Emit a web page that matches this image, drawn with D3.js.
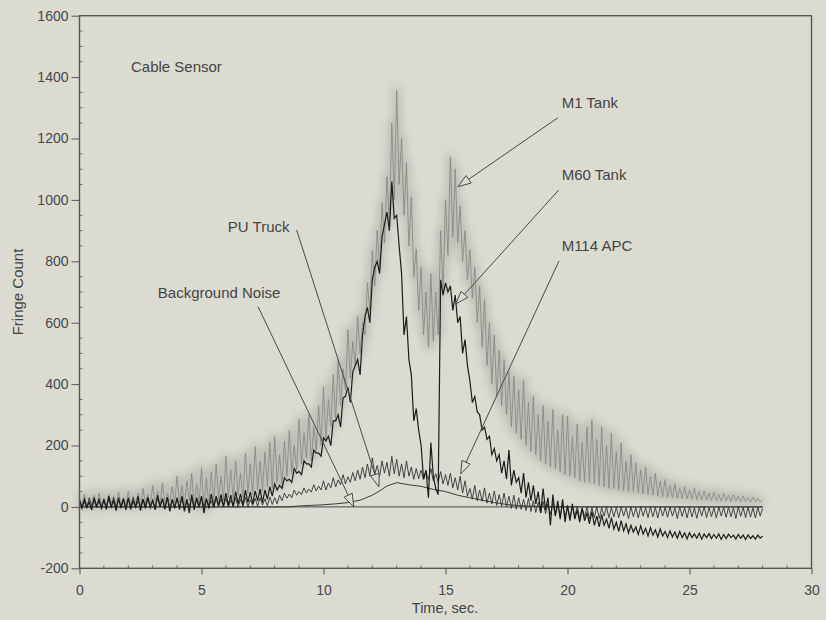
<!DOCTYPE html>
<html lang="en">
<head>
<meta charset="utf-8">
<title>Cable Sensor - Fringe Count</title>
<script src="https://cdn.jsdelivr.net/npm/d3@7"></script>
<style>
  body { margin: 0; background: #dcdbd2; }
  svg { display: block; font-family: "Liberation Sans", Arial, sans-serif; }
  .tick text { fill: #474747; font-size: 14px; }
  .tick line { stroke: #555; }
  .lbl { fill: #444; font-size: 15px; }
</style>
</head>
<body>
<div id="chart"></div>
<script>
// x ticks / y ticks
var xTicks = [0, 5, 10, 15, 20, 25, 30];
var yTicks = [-200, 0, 200, 400, 600, 800, 1000, 1200, 1400, 1600];

// every trace below: peak read every 0.2 s (t = 0 ... 28), trough half way between
var m1Peaks = [30, 42, 25, 38, 45, 28, 40, 35, 48, 30,
  50, 35, 45, 60, 40, 70, 52, 78, 45, 65,
  100, 70, 85, 110, 75, 128, 95, 115, 140, 100,
  165, 120, 150, 110, 175, 140, 197, 150, 180, 210,
  230, 170, 215, 250, 200, 285, 240, 300, 260, 330,
  390, 350, 430, 480, 450, 577, 540, 620, 600, 730,
  835, 900, 990, 1076, 1250, 1357, 1200, 1120, 1010, 840,
  780, 700, 760, 700, 900, 1000, 1140, 1100, 980, 900,
  837, 780, 720, 675, 600, 560, 510, 480, 440, 425,
  380, 414, 340, 360, 300, 330, 280, 317, 250, 300,
  295, 230, 270, 210, 260, 284, 220, 262, 200, 240,
  180, 208, 150, 170, 144, 120, 130, 99, 110, 85,
  89, 70, 75, 60, 65, 55, 60, 50, 52, 45,
  48, 40, 44, 38, 40, 35, 36, 30, 32, 28,
  25];
var m1Troughs = [5, 0, 8, -3, 6, 2, 10, 0, 5, 8,
  3, 10, 0, 12, 5, 15, 8, 10, 18, 12,
  15, 5, 20, 0, 10, -10, 5, 15, 25, 20,
  30, 25, 40, 30, 45, 40, 55, 50, 65, 60,
  80, 70, 100, 110, 120, 140, 160, 150, 180, 200,
  220, 260, 280, 330, 380, 420, 460, 500, 560, 640,
  720, 780, 860, 920, 1000, 1050, 950, 850, 750, 640,
  560, 520, 540, 560, 700, 820, 880, 860, 800, 740,
  680, 600, 520, 460, 400, 360, 330, 300, 260, 240,
  220, 200, 180, 170, 150, 140, 130, 125, 115, 105,
  100, 95, 85, 80, 80, 75, 70, 65, 60, 60,
  55, 52, 50, 48, 45, 42, 40, 38, 35, 33,
  32, 30, 28, 28, 26, 25, 24, 22, 22, 20,
  20, 18, 20, 17, 18, 16, 17, 15, 16, 15];

var m60Peaks = [20, 25, 15, 30, 20, 25, 35, 20, 30, 25,
  30, 20, 35, 25, 30, 22, 38, 28, 32, 25,
  30, 35, 25, 40, 30, 35, 28, 42, 35, 40,
  45, 38, 50, 42, 55, 48, 52, 58, 55, 65,
  75, 70, 95, 90, 125, 115, 150, 140, 185, 175,
  225, 230, 280, 300, 355, 390, 440, 480, 560, 650,
  740, 800, 880, 960, 1060, 950, 760, 620, 430, 320,
  200, 120, 210, 60, 740, 730, 720, 690, 620, 545,
  410, 360, 300, 260, 230, 190, 170, 150, 185, 120,
  95, 110, 80, 70, 50, 60, 30, 40, 20, 25,
  5, 10, -10, -5, -20, -15, -30, -25, -40, -35,
  -50, -45, -55, -60, -65, -62, -70, -68, -75, -72,
  -80, -78, -82, -80, -85, -84, -88, -86, -88, -87,
  -90, -88, -90, -89, -92, -90, -92, -91, -94, -92,
  -95];
var m60Troughs = [-5, 0, -10, 2, -5, -8, 0, -12, -5, -10,
  -8, 0, -12, -5, -2, -10, 0, -8, -15, -5,
  -8, -15, -20, -10, 0, -20, -5, 0, 5, 0,
  5, 0, 10, 5, 15, 10, 20, 15, 25, 35,
  55, 60, 85, 80, 110, 105, 140, 130, 175, 165,
  215, 200, 280, 260, 360, 340, 460, 430, 620, 600,
  780, 760, 920, 900, 940, 850, 560, 480, 280, 250,
  90, 30, 100, 40, 690, 700, 640, 600, 500, 460,
  340, 310, 250, 220, 170, 150, 110, 90, 70, 80,
  45, 30, 20, 10, -20, -10, -60, -30, -40, -50,
  -45, -40, -50, -45, -55, -60, -65, -60, -70, -72,
  -80, -78, -85, -82, -90, -88, -95, -92, -98, -95,
  -100, -98, -102, -100, -104, -100, -102, -105, -100, -103,
  -102, -106, -103, -100, -105, -102, -106, -103, -105, -102];

var m114Peaks = [25, 15, 30, 20, 28, 18, 25, 30, 20, 28,
  22, 30, 18, 26, 32, 20, 28, 24, 30, 22,
  25, 30, 20, 28, 22, 30, 25, 20, 28, 25,
  28, 22, 30, 25, 32, 24, 28, 30, 26, 32,
  30, 38, 45, 42, 55, 50, 62, 58, 72, 68,
  85, 78, 95, 88, 105, 98, 112, 120, 130, 140,
  160, 135, 150, 145, 165, 155, 140, 150, 130, 125,
  120, 115, 125, 108, 115, 105, 110, 95, 100, 85,
  60, 70, 55, 62, 45, 52, 40, 45, 35, 38,
  30, 25, 28, 20, 15, 18, 10, 12, 5, 8,
  0, -2, 2, -3, 0, -2, 1, -3, 0, -2,
  -1, 0, -3, 0, -2, 1, -3, 0, -2, 0,
  -2, 0, -3, 0, -2, 0, -3, -1, 0, -2,
  -3, 0, -2, -1, -3, 0, -2, 0, -3, -1,
  -5];
var m114Troughs = [0, -5, 2, -3, 0, 5, -2, 0, 3, -4,
  2, -3, 0, 4, -2, 0, 3, -4, 0, 2,
  0, -5, 2, 0, -3, 0, 2, -2, 0, 3,
  0, 4, -2, 2, 0, 5, 2, 6, 4, 8,
  10, 20, 28, 30, 38, 40, 45, 48, 52, 55,
  55, 62, 65, 72, 75, 80, 85, 90, 95, 100,
  105, 100, 110, 100, 108, 100, 95, 100, 90, 92,
  90, 88, 85, 80, 75, 70, 62, 55, 45, 35,
  25, 20, 18, 12, 10, 5, 2, 0, -5, -8,
  -8, -12, -15, -18, -20, -22, -25, -28, -30, -32,
  -35, -30, -38, -32, -40, -35, -38, -30, -36, -33,
  -35, -30, -38, -32, -36, -30, -35, -32, -36, -30,
  -34, -30, -38, -31, -36, -33, -37, -30, -35, -32,
  -36, -30, -34, -32, -38, -31, -35, -33, -36, -30];

// smooth traces
var puTimes = [0, 8.5, 9, 9.5, 10, 10.5, 11, 11.5, 12, 12.3, 12.6, 13, 13.5, 14, 14.5, 15, 15.5, 16, 16.5, 17, 17.5, 18, 19, 20, 28];
var puValues = [0, 0, 3, 5, 7, 10, 14, 22, 38, 52, 68, 79, 72, 67, 57, 50, 38, 30, 22, 14, 8, 4, 1, 0, 0];
var noiseTimes = [0, 28];
var noiseValues = [0, 0];

// annotations (data coordinates)
var annoText = ["Cable Sensor", "M1 Tank", "M60 Tank", "M114 APC", "PU Truck", "Background Noise"];
var annoAt = [[2.11, 1418], [19.76, 1299], [19.76, 1065], [19.76, 832], [6.08, 897], [3.21, 680]];
var arrowFrom = [null, [19.61, 1268], [19.64, 1032], [19.65, 801], [8.9, 902], [7.32, 652]];
var arrowTo = [null, [15.51, 1043], [15.42, 661], [15.62, 107], [12.27, 65], [11.24, 0]];

(function() {
  var width = 826, height = 620;
  var mLeft = 79.5, mRight = 811.5, mTop = 15.7, mBottom = 568.3;
  var bg = '#dcdbd2';
  var step = 0.2;

  var svg = d3.select('#chart').append('svg')
    .attr('width', width)
    .attr('height', height);

  var defs = svg.append('defs');
  defs.append('filter').attr('id', 'fuzz')
    .attr('x', '-10%').attr('y', '-10%').attr('width', '120%').attr('height', '120%')
    .append('feGaussianBlur').attr('stdDeviation', 4);

  var x = d3.scaleLinear().domain([0, 30]).range([mLeft, mRight]);
  var y = d3.scaleLinear().domain([-200, 1600]).range([mBottom, mTop]);

  // zig-zag a peak list and a trough list into one trace
  function zigzag(peaks, troughs) {
    var pts = [];
    peaks.forEach(function(p, k) {
      pts.push([k * step, p]);
      if (k < troughs.length) pts.push([k * step + step / 2, troughs[k]]);
    });
    return pts;
  }

  var line = d3.line()
    .x(function(d) { return x(d[0]); })
    .y(function(d) { return y(d[1]); });

  var m1 = zigzag(m1Peaks, m1Troughs);
  var m60 = zigzag(m60Peaks, m60Troughs);
  var m114 = zigzag(m114Peaks, m114Troughs);
  var pu = puTimes.map(function(t, i) { return [t, puValues[i]]; });
  var noise = noiseTimes.map(function(t, i) { return [t, noiseValues[i]]; });

  var plot = svg.append('g');

  // M1 tank: grey with a fuzzy halo like the scan
  plot.append('path').datum(m1)
    .attr('d', line)
    .attr('fill', 'none')
    .attr('stroke', '#8a8a84')
    .attr('stroke-width', 8)
    .attr('stroke-linejoin', 'round')
    .attr('opacity', 0.35)
    .attr('filter', 'url(#fuzz)');
  plot.append('path').datum(m1)
    .attr('d', line)
    .attr('fill', 'none')
    .attr('stroke', '#858582')
    .attr('stroke-width', 0.8);

  plot.append('path').datum(noise)
    .attr('d', line).attr('fill', 'none')
    .attr('stroke', '#444').attr('stroke-width', 1);
  plot.append('path').datum(pu)
    .attr('d', line).attr('fill', 'none')
    .attr('stroke', '#3a3a3a').attr('stroke-width', 1);
  plot.append('path').datum(m114)
    .attr('d', line).attr('fill', 'none')
    .attr('stroke', '#333').attr('stroke-width', 0.9);
  plot.append('path').datum(m60)
    .attr('d', line).attr('fill', 'none')
    .attr('stroke', '#1c1c1c').attr('stroke-width', 1.2);

  // frame
  svg.append('rect')
    .attr('x', mLeft).attr('y', mTop)
    .attr('width', mRight - mLeft).attr('height', mBottom - mTop)
    .attr('fill', 'none').attr('stroke', '#555').attr('stroke-width', 1.4);

  // axes
  var yAxis = svg.append('g')
    .attr('transform', 'translate(' + mLeft + ',0)')
    .call(d3.axisLeft(y).tickValues(yTicks)
      .tickFormat(function(d) { return String(d); })
      .tickSize(8).tickPadding(3));
  yAxis.select('.domain').remove();

  var xAxis = svg.append('g')
    .attr('transform', 'translate(0,' + mBottom + ')')
    .call(d3.axisBottom(x).tickValues(xTicks).tickSize(6).tickPadding(11));
  xAxis.select('.domain').remove();

  // small inner ticks
  svg.append('g').selectAll('line')
    .data(d3.range(-200, 1601, 50).filter(function(v) { return v % 200 !== 0; }))
    .enter().append('line')
    .attr('x1', mLeft).attr('x2', mLeft + 3)
    .attr('y1', function(d) { return y(d); }).attr('y2', function(d) { return y(d); })
    .attr('stroke', '#666');
  svg.append('g').selectAll('line')
    .data(d3.range(1, 30).filter(function(v) { return v % 5 !== 0; }))
    .enter().append('line')
    .attr('x1', function(d) { return x(d); }).attr('x2', function(d) { return x(d); })
    .attr('y1', mBottom).attr('y2', mBottom - 3)
    .attr('stroke', '#666');

  // axis titles
  svg.append('text').attr('class', 'lbl')
    .attr('x', 445).attr('y', 613)
    .attr('text-anchor', 'middle')
    .style('font-size', '14.5px')
    .text('Time, sec.');
  svg.append('text').attr('class', 'lbl')
    .attr('transform', 'translate(23,292) rotate(-90)')
    .attr('text-anchor', 'middle')
    .text('Fringe Count');

  // annotations
  var anno = svg.append('g');
  annoText.forEach(function(txt, i) {
    anno.append('text').attr('class', 'lbl')
      .attr('x', x(annoAt[i][0])).attr('y', y(annoAt[i][1]))
      .text(txt);
    if (!arrowFrom[i]) return;
    var x0 = x(arrowFrom[i][0]), y0 = y(arrowFrom[i][1]);
    var x1 = x(arrowTo[i][0]), y1 = y(arrowTo[i][1]);
    var ang = Math.atan2(y1 - y0, x1 - x0);
    var len = 13, half = 4.5;
    var bx = x1 - len * Math.cos(ang), by = y1 - len * Math.sin(ang);
    anno.append('line')
      .attr('x1', x0).attr('y1', y0).attr('x2', bx).attr('y2', by)
      .attr('stroke', '#4a4a4a').attr('stroke-width', 1);
    var pts = [
      [x1, y1],
      [bx + half * Math.sin(ang), by - half * Math.cos(ang)],
      [bx - half * Math.sin(ang), by + half * Math.cos(ang)]
    ];
    anno.append('polygon')
      .attr('points', pts.map(function(p) { return p.join(','); }).join(' '))
      .attr('fill', bg).attr('stroke', '#4a4a4a').attr('stroke-width', 1);
  });
})();
</script>
</body>
</html>
